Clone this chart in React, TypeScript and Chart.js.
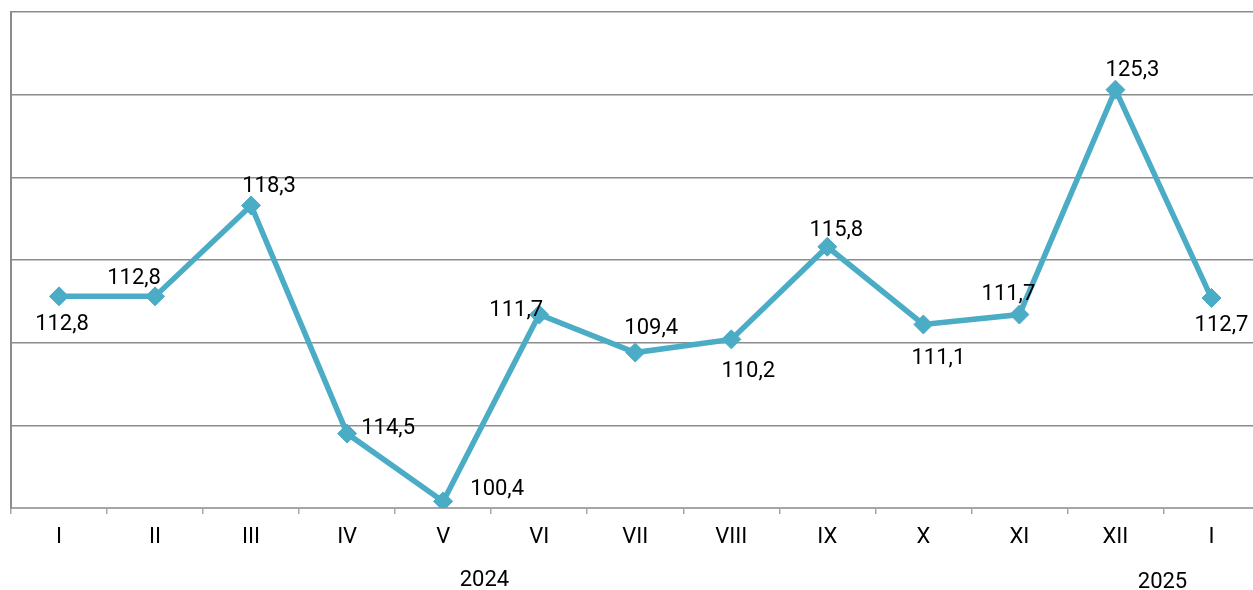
import React, { useEffect, useRef } from "react";
import { Chart, registerables } from "chart.js";

Chart.register(...registerables);

// Categories (months, Roman numerals)
const months = ["I", "II", "III", "IV", "V", "VI", "VII", "VIII", "IX", "X", "XI", "XII", "I"];
const values = [112.8, 112.8, 118.3, 104.5, 100.4, 111.7, 109.4, 110.2, 115.8, 111.1, 111.7, 125.3, 112.7];
// Data label texts as printed on the chart
const pointLabels = ["112,8", "112,8", "118,3", "114,5", "100,4", "111,7", "109,4", "110,2", "115,8", "111,1", "111,7", "125,3", "112,7"];
// Year captions and the category position under which they sit
const years = ["2024", "2025"];
const yearAt = [4.43, 11.49];

// Styling: label offsets (dx, dy) relative to each point
const labelDx = [3, -21, 18, 41, 54, -23, 16, 17, 9, 15, -11, 17, 10];
const labelDy = [26, -20, -21, -7, -14, -6, -26, 30, -19, 32, -22, -22, 25];
const yearDy = [70, 72];

const LINE_COLOR = "#4BACC6";
const FONT = "Roboto";
const FONT_SIZE = 22;

const labelPlugin = {
  id: "customLabels",
  afterDatasetsDraw(chart: any) {
    const ctx = chart.ctx;
    const meta = chart.getDatasetMeta(0);
    ctx.save();
    ctx.font = `${FONT_SIZE}px ${FONT}`;
    ctx.fillStyle = "#000";
    ctx.textAlign = "center";
    ctx.textBaseline = "alphabetic";
    const half = FONT_SIZE * 0.355;
    meta.data.forEach((pt: any, i: number) => {
      ctx.fillText(pointLabels[i], pt.x + labelDx[i], pt.y + labelDy[i] + half);
    });
    const xs = chart.scales.x;
    years.forEach((y, i) => {
      const x = xs.getPixelForValue(yearAt[i]);
      ctx.fillText(y, x, chart.chartArea.bottom + yearDy[i] + half);
    });
    ctx.restore();
  },
};

export default function App() {
  const ref = useRef<HTMLCanvasElement | null>(null);
  useEffect(() => {
    if (!ref.current) return;
    const chart = new Chart(ref.current, {
      type: "line",
      data: {
        labels: months,
        datasets: [
          {
            data: values,
            borderColor: LINE_COLOR,
            backgroundColor: LINE_COLOR,
            borderWidth: 5.5,
            tension: 0,
            pointStyle: "rectRot",
            pointRadius: 9.5,
            pointBackgroundColor: LINE_COLOR,
            pointBorderColor: LINE_COLOR,
            pointBorderWidth: 1,
            fill: false,
          },
        ],
      },
      options: {
        responsive: false,
        maintainAspectRatio: false,
        animation: false,
        devicePixelRatio: 1,
        layout: { padding: { top: 12, left: 0, right: 10, bottom: 0 } },
        plugins: { legend: { display: false }, tooltip: { enabled: false } },
        scales: {
          x: {
            type: "category",
            offset: true,
            grid: {
              offset: true,
              drawOnChartArea: false,
              drawTicks: true,
              tickLength: 6,
              color: "#a6a6a6",
              lineWidth: 1.5,
            },
            border: { display: true, color: "#a6a6a6", width: 2 },
            ticks: {
              color: "#000",
              font: { family: FONT, size: FONT_SIZE },
              padding: 10,
              maxRotation: 0,
              autoSkip: false,
            },
            afterFit: (s: any) => {
              s.height = 82;
            },
          },
          y: {
            min: 100,
            max: 130,
            ticks: { stepSize: 5, display: false },
            grid: { color: "#8c8c8c", lineWidth: 1.5, drawTicks: false },
            border: { display: true, color: "#8c8c8c", width: 2 },
            afterFit: (s: any) => {
              s.width = 11;
            },
          },
        },
      },
      plugins: [labelPlugin],
    } as any);
    return () => chart.destroy();
  }, []);

  return (
    <div
      style={{
        position: "absolute",
        left: 0,
        top: 0,
        width: 1253,
        height: 590,
        overflow: "hidden",
        background: "#fff",
      }}
    >
      <canvas ref={ref} width={1270} height={590} style={{ display: "block" }} />
    </div>
  );
}
